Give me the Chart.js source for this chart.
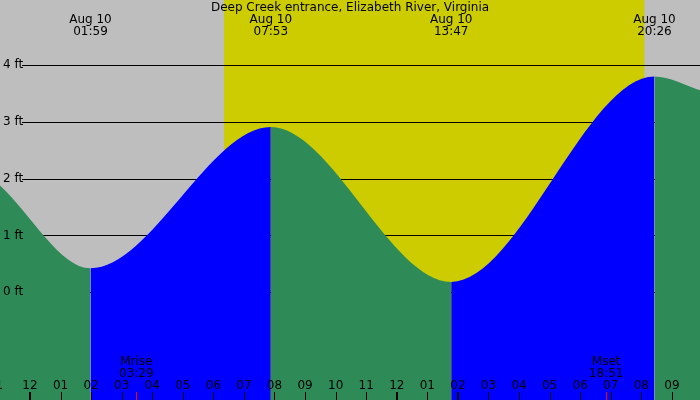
<!DOCTYPE html>
<html>
<head>
<meta charset="utf-8">
<script src="https://cdn.jsdelivr.net/npm/chart.js@4"></script>
<style>
	html, body { margin: 0; padding: 0; background: #bfbfbf; }
	#wrap { width: 700px; height: 400px; }
</style>
</head>
<body>
<div id="wrap"><canvas id="tide" width="700" height="400"></canvas></div>
<script>
// hours since midnight Aug 10, and tide height in ft
const tideHours = [-0.98, 1.98, 7.88, 13.78, 20.43, 21.92];
const tideFeet = [1.88, 0.42, 2.91, 0.18, 3.80, 3.56];
const extremeLabels = ['01:59', '07:53', '13:47', '20:26'];
const extremeHours = [1.98, 7.88, 13.78, 20.43];
const dayStart = 6.35, dayEnd = 20.1;
const ftLevels = [0, 1, 2, 3, 4];
const hourLabels = ['1', '12', '01', '02', '03', '04', '05', '06', '07', '08', '09', '10', '11', '12', '01', '02', '03', '04', '05', '06', '07', '08', '09'];
const moonEvents = [{ name: 'Mrise', time: '03:29', hour: 3.48 }, { name: 'Mset', time: '18:51', hour: 18.85 }];

const font = '12px "DejaVu Sans", sans-serif';

const backdrop = {
	id: 'backdrop',
	beforeDatasetsDraw(chart) {
		const { ctx, chartArea: a, scales: { x, y } } = chart;
		ctx.save();
		ctx.fillStyle = '#bebebe';
		ctx.fillRect(a.left, a.top, a.right - a.left, a.bottom - a.top);
		ctx.fillStyle = '#cccc00';
		ctx.fillRect(x.getPixelForValue(dayStart), a.top, x.getPixelForValue(dayEnd) - x.getPixelForValue(dayStart), a.bottom - a.top);
		// ft lines
		ctx.strokeStyle = '#000';
		ctx.lineWidth = 1;
		ctx.fillStyle = '#000';
		ctx.font = font;
		ctx.textBaseline = 'middle';
		ftLevels.forEach(f => {
			const py = Math.round(y.getPixelForValue(f)) + 0.5;
			ctx.beginPath();
			ctx.moveTo(22, py);
			ctx.lineTo(a.right, py);
			ctx.stroke();
		});
		ctx.restore();
	},
	afterDatasetsDraw(chart) {
		const { ctx, chartArea: a, scales: { x, y } } = chart;
		ctx.save();
		ctx.fillStyle = '#000';
		ctx.font = font;
		ctx.textBaseline = 'middle';
		ctx.textAlign = 'left';
		ftLevels.forEach(f => ctx.fillText(f + ' ft', 3, y.getPixelForValue(f)));
		ctx.textAlign = 'center';
		ctx.fillText('Deep Creek entrance, Elizabeth River, Virginia', 350, 8);
		extremeHours.forEach((h, i) => {
			const px = x.getPixelForValue(h);
			ctx.fillText('Aug 10', px, 20);
			ctx.fillText(extremeLabels[i], px, 32);
		});
		hourLabels.forEach((lab, i) => {
			const px = x.getPixelForValue(i - 1);
			ctx.fillText(lab, px, 386);
			ctx.fillStyle = '#000';
			const thick = (i === 1 || i === 13 || i === 15);
			ctx.fillRect(Math.round(px) - (thick ? 1 : 0), 392, thick ? 2 : 1, 8);
		});
		moonEvents.forEach(m => {
			const px = x.getPixelForValue(m.hour);
			ctx.fillText(m.name, px, 362);
			ctx.fillText(m.time, px, 374);
			ctx.fillStyle = '#ff0000';
			ctx.fillRect(Math.round(px), 392, 1, 8);
			ctx.fillStyle = '#000';
		});
		ctx.restore();
	}
};

new Chart(document.getElementById('tide'), {
	type: 'line',
	data: {
		datasets: [{
			data: tideHours.map((h, i) => ({ x: h, y: tideFeet[i] })),
			fill: 'start',
			borderWidth: 0,
			pointRadius: 0,
			cubicInterpolationMode: 'monotone',
			backgroundColor: '#2e8b57',
			segment: {
				backgroundColor: c => c.p1.parsed.y > c.p0.parsed.y ? '#0000ff' : '#2e8b57',
				borderColor: c => c.p1.parsed.y > c.p0.parsed.y ? '#0000ff' : '#2e8b57'
			}
		}]
	},
	options: {
		responsive: false,
		animation: false,
		layout: { padding: 0 },
		plugins: { legend: { display: false }, tooltip: { enabled: false } },
		scales: {
			x: { type: 'linear', min: -0.98, max: 21.92, display: false },
			y: { min: -1.9, max: 5.15, display: false }
		}
	},
	plugins: [backdrop]
});
</script>
</body>
</html>
